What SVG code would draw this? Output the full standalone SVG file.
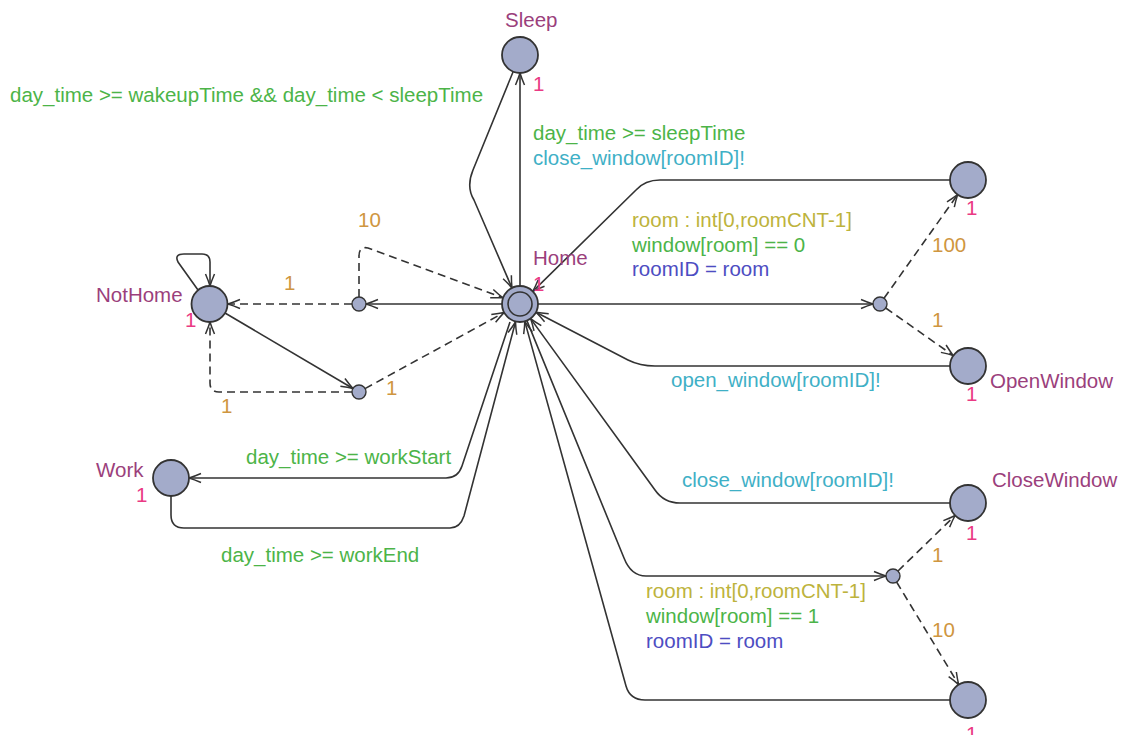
<svg xmlns="http://www.w3.org/2000/svg" width="1125" height="735" viewBox="0 0 1125 735">
  <defs>
    <marker id="arr" markerUnits="userSpaceOnUse" markerWidth="16" markerHeight="12" viewBox="-13 -6 16 12" refX="0" refY="0" orient="auto" overflow="visible">
      <path d="M -12,-4.5 Q -5,-1.5 0,0 Q -5,1.5 -12,4.5" fill="none" stroke="#333" stroke-width="1.5"/>
    </marker>
    <style>
      .loc { fill: #a3abca; stroke: #333; stroke-width: 1.8; }
      .br { fill: #a3abca; stroke: #333; stroke-width: 1.4; }
      .e { fill: none; stroke: #333; stroke-width: 1.6; marker-end: url(#arr); }
      .en { fill: none; stroke: #333; stroke-width: 1.6; }
      .d { fill: none; stroke: #333; stroke-width: 1.6; stroke-dasharray: 8 5; marker-end: url(#arr); }
      text { font-family: "Liberation Sans", Arial, sans-serif; font-size: 20.5px; }
      .name { fill: #9b3f7c; }
      .inv { fill: #ea3a84; }
      .prob { fill: #cf9640; }
      .guard { fill: #4cb448; }
      .sync { fill: #3fb0c6; }
      .sel { fill: #bdb33c; }
      .upd { fill: #4d4dc2; }
    </style>
  </defs>

  <!-- edges -->
  <g id="edges">
    <!-- Home -> Sleep -->
    <path class="e" d="M 520,286 L 520,73"/>
    <!-- Sleep -> Home -->
    <path class="e" d="M 513,72 L 473,170 Q 466,187 474,200 L 512,288"/>
    <!-- Home -> left branch -->
    <path class="e" d="M 502,304 L 366,304"/>
    <!-- left branch -> NotHome -->
    <path class="d" d="M 352,304 L 228,304"/>
    <!-- left branch -> Home -->
    <path class="d" d="M 359,297 L 359,256 Q 359,246 368,248 L 503,297.8"/>
    <!-- NotHome self loop -->
    <path class="e" d="M 198,290 L 178,262 Q 174,254 184,254 L 202,254 Q 210,254 210,262 L 210,286"/>
    <!-- NotHome -> lower branch -->
    <path class="e" d="M 225,313 L 353,388.5"/>
    <!-- lower branch -> Home -->
    <path class="d" d="M 365,388.6 L 504,312.6"/>
    <!-- lower branch -> NotHome -->
    <path class="d" d="M 352,392 L 219,392 Q 210,392 210,383 L 210,322"/>
    <!-- Home -> right branch -->
    <path class="e" d="M 538,304 L 873,304"/>
    <!-- right branch -> upper right location -->
    <path class="d" d="M 884,298.3 L 957.6,194.7"/>
    <!-- right branch -> OpenWindow -->
    <path class="d" d="M 885.7,308 L 953.3,355.6"/>
    <!-- upper right location -> Home -->
    <path class="e" d="M 950,180 L 660,180 Q 645,180 636,190 L 532.8,291.4"/>
    <!-- OpenWindow -> Home -->
    <path class="e" d="M 950,366 L 655,366 Q 640,366 628,360 L 536,312.3"/>
    <!-- Home -> Work -->
    <path class="e" d="M 510,322 L 462,466 Q 458,478 446,478 L 189,478"/>
    <!-- Work -> Home -->
    <path class="e" d="M 171,496 L 171,515 Q 171,528 184,528 L 450,528 Q 460,528 464,516 L 515.5,322"/>
    <!-- CloseWindow -> Home -->
    <path class="e" d="M 950,503 L 680,503 Q 664,503 655,490 L 530.6,318.6"/>
    <!-- Home -> lower right branch -->
    <path class="e" d="M 526.9,320.6 L 624,558 Q 631,576 646,576 L 886,576"/>
    <!-- lower right branch -> CloseWindow -->
    <path class="d" d="M 898,571 L 955.1,515.5"/>
    <!-- lower right branch -> bottom right location -->
    <path class="d" d="M 896.6,582 L 958.7,684.6"/>
    <!-- bottom right location -> Home -->
    <path class="e" d="M 950,700 L 645,700 Q 630,700 626,686 L 524.8,321.4"/>
  </g>

  <!-- locations -->
  <g id="Sleep">
    <circle class="loc" cx="520" cy="55" r="18"/>
    <text class="name" x="505" y="27">Sleep</text>
    <text class="inv" x="533" y="91">1</text>
  </g>
  <g id="Home">
    <circle class="loc" cx="520" cy="304" r="18"/>
    <circle class="en" cx="520" cy="304" r="12"/>
    <text class="name" x="533" y="265">Home</text>
    <text class="inv" x="533" y="291">1</text>
  </g>
  <g id="NotHome">
    <circle class="loc" cx="209.5" cy="304" r="18"/>
    <text class="name" x="96" y="302">NotHome</text>
    <text class="inv" x="185" y="327">1</text>
  </g>
  <g id="Work">
    <circle class="loc" cx="171" cy="478" r="18"/>
    <text class="name" x="96" y="477">Work</text>
    <text class="inv" x="136" y="502">1</text>
  </g>
  <g id="WindowOpen">
    <circle class="loc" cx="968" cy="180" r="18"/>
    <text class="inv" x="966" y="215">1</text>
  </g>
  <g id="OpenWindow">
    <circle class="loc" cx="968" cy="366" r="18"/>
    <text class="name" x="990" y="388">OpenWindow</text>
    <text class="inv" x="966" y="401">1</text>
  </g>
  <g id="CloseWindow">
    <circle class="loc" cx="968" cy="503" r="18"/>
    <text class="name" x="992" y="487">CloseWindow</text>
    <text class="inv" x="966" y="540">1</text>
  </g>
  <g id="WindowClosed">
    <circle class="loc" cx="968" cy="700" r="18"/>
    <text class="inv" x="966" y="741">1</text>
  </g>

  <!-- branch points -->
  <g id="branchLeft"><circle class="br" cx="359" cy="304" r="7"/></g>
  <g id="branchLower"><circle class="br" cx="359" cy="392" r="7"/></g>
  <g id="branchOpen"><circle class="br" cx="880" cy="304" r="7"/></g>
  <g id="branchClose"><circle class="br" cx="893" cy="576" r="7"/></g>

  <!-- edge labels -->
  <g id="labels">
    <text class="guard" x="10" y="102">day_time &gt;= wakeupTime &amp;&amp; day_time &lt; sleepTime</text>
    <text class="guard" x="533" y="140">day_time &gt;= sleepTime</text>
    <text class="sync" x="533" y="165">close_window[roomID]!</text>
    <text class="prob" x="358" y="227">10</text>
    <text class="prob" x="284" y="290">1</text>
    <text class="prob" x="386" y="395">1</text>
    <text class="prob" x="221" y="413">1</text>
    <text class="sel" x="632" y="227">room : int[0,roomCNT-1]</text>
    <text class="guard" x="632" y="252">window[room] == 0</text>
    <text class="upd" x="632" y="276">roomID = room</text>
    <text class="prob" x="932" y="252">100</text>
    <text class="prob" x="932" y="327">1</text>
    <text class="sync" x="671" y="387">open_window[roomID]!</text>
    <text class="guard" x="246" y="464">day_time &gt;= workStart</text>
    <text class="guard" x="221" y="562">day_time &gt;= workEnd</text>
    <text class="sync" x="682" y="487">close_window[roomID]!</text>
    <text class="prob" x="932" y="562">1</text>
    <text class="sel" x="646" y="598">room : int[0,roomCNT-1]</text>
    <text class="guard" x="646" y="623">window[room] == 1</text>
    <text class="upd" x="646" y="648">roomID = room</text>
    <text class="prob" x="932" y="637">10</text>
  </g>
</svg>
